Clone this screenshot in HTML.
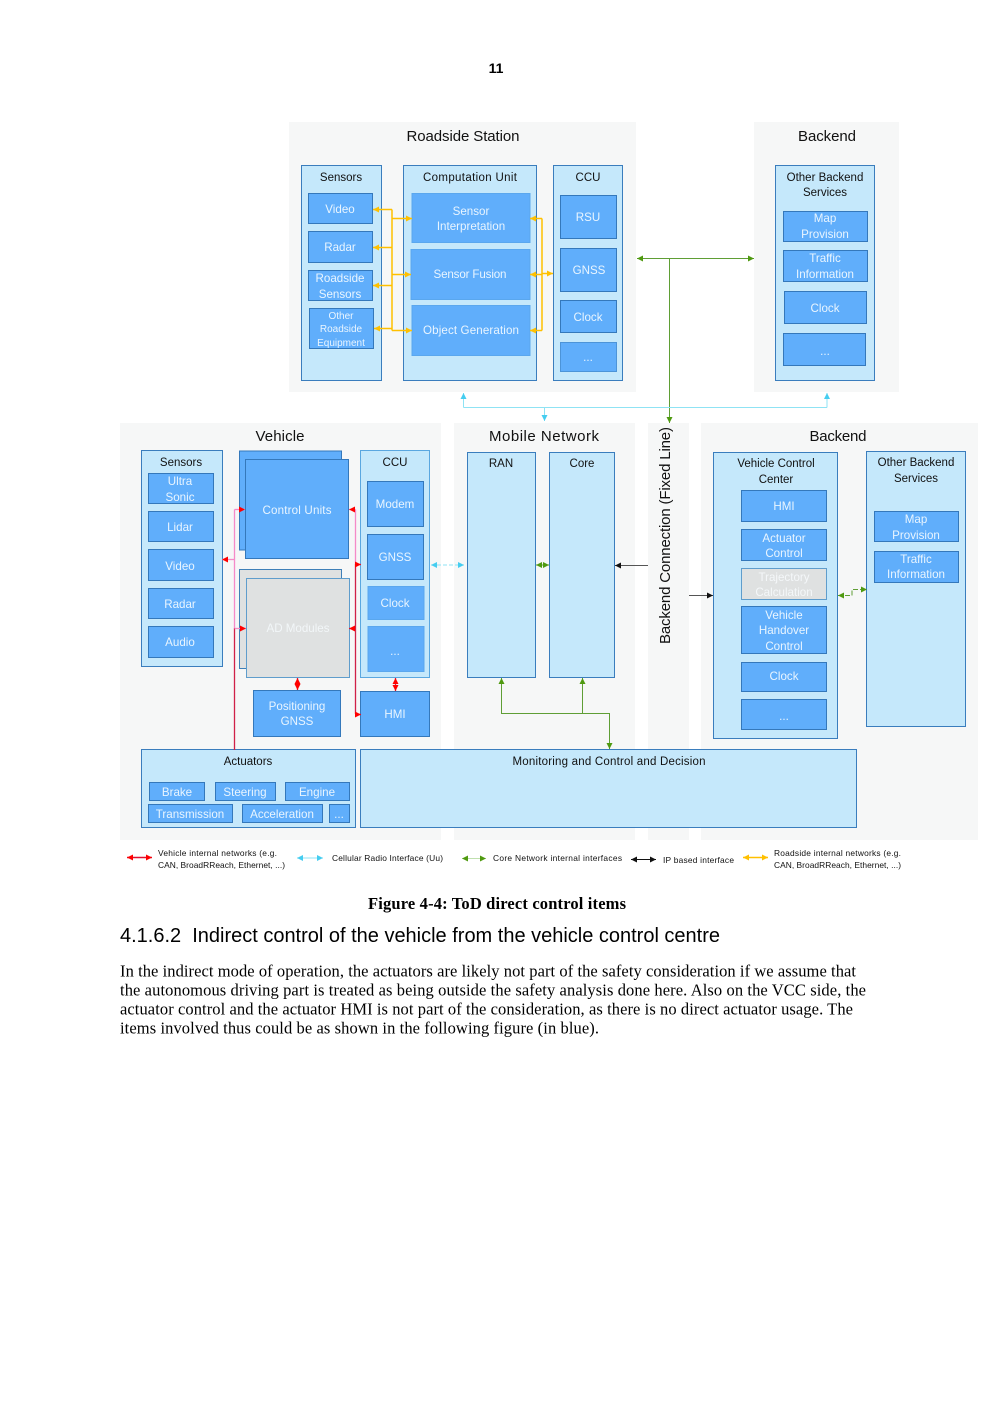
<!DOCTYPE html>
<html><head><meta charset="utf-8"><style>
html,body{margin:0;padding:0;background:#fff}
svg{display:block}
text{font-family:"Liberation Sans",sans-serif}
.bg{fill:#f6f7f7}
.c{fill:#c5e8fb;stroke:#3a7dbd;stroke-width:1}
.b{fill:#60aefb;stroke:#3478bb;stroke-width:1}
.g{fill:#dfe1e1;stroke:#5f9dcc;stroke-width:1}
.t{font-size:11.6px;fill:#e9f5ff;text-anchor:middle}
.k{font-size:11.5px;fill:#111;text-anchor:middle}
.h{font-size:15px;fill:#111;text-anchor:middle}
.l{font-size:8.4px;fill:#111}
.body{font-family:"Liberation Serif",serif;font-size:16.5px;fill:#000}
.y{stroke:#ffc000;stroke-width:1.5;fill:none}
.p{stroke:#f58ac8;stroke-width:1.3;fill:none}
.r{stroke:#d02048;stroke-width:1.3;fill:none}
.n{stroke:#5f9e35;stroke-width:1;fill:none}
.a{stroke:#8fe3f4;stroke-width:1;fill:none}
.d{stroke:#555;stroke-width:1;fill:none}
</style></head><body>
<svg xmlns="http://www.w3.org/2000/svg" width="993" height="1403" viewBox="0 0 993 1403">
<defs>
<marker id="my" markerUnits="userSpaceOnUse" markerWidth="7" markerHeight="6" refX="6" refY="3" orient="auto-start-reverse"><path d="M0 0L6 3L0 6Z" fill="#ffc000"/></marker>
<marker id="mr" markerUnits="userSpaceOnUse" markerWidth="7" markerHeight="6" refX="6" refY="3" orient="auto-start-reverse"><path d="M0 0L6 3L0 6Z" fill="#f00"/></marker>
<marker id="mn" markerUnits="userSpaceOnUse" markerWidth="7" markerHeight="6" refX="6" refY="3" orient="auto-start-reverse"><path d="M0 0L6 3L0 6Z" fill="#4f9a10"/></marker>
<marker id="ma" markerUnits="userSpaceOnUse" markerWidth="7" markerHeight="6" refX="6" refY="3" orient="auto-start-reverse"><path d="M0 0L6 3L0 6Z" fill="#45cdf0"/></marker>
<marker id="mk" markerUnits="userSpaceOnUse" markerWidth="7" markerHeight="6" refX="6" refY="3" orient="auto-start-reverse"><path d="M0 0L6 3L0 6Z" fill="#111"/></marker>
</defs>
<text x="496" y="73" font-size="14" font-weight="bold" text-anchor="middle" fill="#000">11</text>

<!-- backgrounds -->
<rect class="bg" x="289" y="122" width="347" height="270"/>
<rect class="bg" x="754" y="122" width="145" height="270"/>
<rect class="bg" x="120" y="423" width="321" height="417"/>
<rect class="bg" x="454" y="423" width="181" height="417"/>
<rect class="bg" x="648" y="423" width="41" height="417"/>
<rect class="bg" x="701" y="423" width="277" height="417"/>

<text class="h" x="463" y="141" textLength="113">Roadside Station</text>
<text class="h" x="827" y="141" textLength="58">Backend</text>
<text class="h" x="280" y="441" textLength="49">Vehicle</text>
<text class="h" x="544" y="441" textLength="110">Mobile Network</text>
<text class="h" x="838" y="441" textLength="57">Backend</text>
<text class="h" transform="translate(670,535.5) rotate(-90)" textLength="217">Backend Connection (Fixed Line)</text>

<!-- Roadside -->
<rect class="c" x="301.500" y="165.500" width="80" height="215"/>
<rect class="c" x="403.500" y="165.500" width="133" height="215"/>
<rect class="c" x="553.500" y="165.500" width="69" height="215"/>
<text class="k" x="341" y="181">Sensors</text>
<text class="k" x="470" y="181" textLength="94">Computation Unit</text>
<text class="k" x="588" y="181">CCU</text>
<rect class="b" x="308.500" y="193.500" width="64" height="30"/><text class="t" x="340" y="213">Video</text>
<rect class="b" x="308.500" y="231.500" width="64" height="31"/><text class="t" x="340" y="251">Radar</text>
<rect class="b" x="308.500" y="270.500" width="64" height="30"/><text class="t" x="340" y="282">Roadside</text><text class="t" x="340" y="298">Sensors</text>
<rect class="b" x="309.500" y="308.500" width="64" height="40"/><text class="t" x="341" y="319" style="font-size:10px">Other</text><text class="t" x="341" y="332" style="font-size:10px">Roadside</text><text class="t" x="341" y="346" style="font-size:10px">Equipment</text>
<rect class="b" x="412" y="193.500" width="118" height="49" style="stroke:#5aa7ee"/><text class="t" x="471" y="215">Sensor</text><text class="t" x="471" y="230">Interpretation</text>
<rect class="b" x="411" y="249.500" width="119" height="50" style="stroke:#5aa7ee"/><text class="t" x="470" y="278" textLength="73">Sensor Fusion</text>
<rect class="b" x="412" y="305.500" width="118" height="50" style="stroke:#5aa7ee"/><text class="t" x="471" y="334" textLength="96">Object Generation</text>
<rect class="b" x="560.500" y="195.500" width="56" height="43"/><text class="t" x="588" y="221">RSU</text>
<rect class="b" x="560.500" y="248.500" width="56" height="43"/><text class="t" x="589" y="274">GNSS</text>
<rect class="b" x="560.500" y="300.500" width="56" height="32"/><text class="t" x="588" y="321">Clock</text>
<rect class="b" x="560.500" y="342.500" width="56" height="29" style="stroke:#4c94d8"/><text class="t" x="588" y="361">...</text>

<!-- yellow -->
<g class="y">
<path d="M392 209.500V330.500"/>
<path d="M392 209.500H373" marker-end="url(#my)"/>
<path d="M392 247.500H373" marker-end="url(#my)"/>
<path d="M392 285.500H373" marker-end="url(#my)"/>
<path d="M392 328.500H374" marker-end="url(#my)"/>
<path d="M392 218.500H412" marker-end="url(#my)"/>
<path d="M392 274.500H411" marker-end="url(#my)"/>
<path d="M392 330.500H412" marker-end="url(#my)"/>
<path d="M542 218.500V330.500"/>
<path d="M542 218.500H530" marker-end="url(#my)"/>
<path d="M542 274.500H530" marker-end="url(#my)"/>
<path d="M542 330.500H530" marker-end="url(#my)"/>
<path d="M542 273.500H553" marker-end="url(#my)"/>
</g>

<!-- Backend top -->
<rect class="c" x="775.500" y="165.500" width="99" height="215"/>
<text class="k" x="825" y="181">Other Backend</text><text class="k" x="825" y="196">Services</text>
<rect class="b" x="783.500" y="211.500" width="84" height="30"/><text class="t" x="825" y="222">Map</text><text class="t" x="825" y="238">Provision</text>
<rect class="b" x="783.500" y="250.500" width="84" height="31"/><text class="t" x="825" y="262">Traffic</text><text class="t" x="825" y="278">Information</text>
<rect class="b" x="784.500" y="291.500" width="82" height="32"/><text class="t" x="825" y="312">Clock</text>
<rect class="b" x="783.500" y="333.500" width="82" height="32"/><text class="t" x="825" y="355">...</text>

<!-- top connectors -->
<path class="n" d="M637 258.500H754" marker-start="url(#mn)" marker-end="url(#mn)"/>
<path class="n" d="M669.500 258V423" marker-end="url(#mn)"/>
<path class="a" d="M463.500 407.500H827"/>
<path class="a" d="M463.500 407.500V393" marker-end="url(#ma)"/>
<path class="a" d="M827 407.500V393" marker-end="url(#ma)"/>
<path class="a" d="M544.500 407.500V421" marker-end="url(#ma)"/>

<!-- Vehicle -->
<rect class="c" x="141.500" y="450.500" width="81" height="216"/>
<text class="k" x="181" y="466">Sensors</text>
<rect class="b" x="148.500" y="473.500" width="65" height="30"/><text class="t" x="180" y="485">Ultra</text><text class="t" x="180" y="501">Sonic</text>
<rect class="b" x="148.500" y="511.500" width="65" height="30"/><text class="t" x="180" y="531">Lidar</text>
<rect class="b" x="148.500" y="549.500" width="65" height="31"/><text class="t" x="180" y="570">Video</text>
<rect class="b" x="148.500" y="588.500" width="65" height="30"/><text class="t" x="180" y="608">Radar</text>
<rect class="b" x="148.500" y="626.500" width="65" height="31"/><text class="t" x="180" y="646">Audio</text>

<rect class="b" x="239.500" y="451" width="102" height="99"/>
<rect class="b" x="245.500" y="459.500" width="103" height="99"/><text class="t" x="297" y="514" textLength="69">Control Units</text>
<rect class="g" x="239.500" y="569.500" width="102" height="99" style="stroke:#3f80b8"/>
<rect class="g" x="246.500" y="578.500" width="103" height="99"/><text class="t" x="298" y="632" style="fill:#f2f6f8" textLength="63">AD Modules</text>

<rect class="c" x="360.500" y="450.500" width="69" height="227" style="stroke:#5aa7e0"/>
<text class="k" x="395" y="466">CCU</text>
<rect class="b" x="367.500" y="481.500" width="56" height="45"/><text class="t" x="395" y="508">Modem</text>
<rect class="b" x="367.500" y="534.500" width="56" height="45"/><text class="t" x="395" y="561">GNSS</text>
<rect class="b" x="368" y="586.500" width="56" height="33" style="stroke:#5aa7ee"/><text class="t" x="395" y="607">Clock</text>
<rect class="b" x="368" y="626.500" width="56" height="45" style="stroke:#5aa7ee"/><text class="t" x="395" y="655">...</text>
<rect class="b" x="253.500" y="690.500" width="87" height="46"/><text class="t" x="297" y="710">Positioning</text><text class="t" x="297" y="725">GNSS</text>
<rect class="b" x="360.500" y="691.500" width="69" height="45"/><text class="t" x="395" y="718">HMI</text>

<rect class="c" x="141.500" y="749.500" width="214" height="78"/>
<text class="k" x="248" y="765">Actuators</text>
<rect class="b" x="149.500" y="782.500" width="55" height="18"/><text class="t" x="177" y="796">Brake</text>
<rect class="b" x="215.500" y="782.500" width="60" height="18"/><text class="t" x="245" y="796">Steering</text>
<rect class="b" x="285.500" y="782.500" width="64" height="18"/><text class="t" x="317" y="796">Engine</text>
<rect class="b" x="148.500" y="804.500" width="84" height="18"/><text class="t" x="190" y="818">Transmission</text>
<rect class="b" x="242.500" y="804.500" width="80" height="18"/><text class="t" x="282" y="818">Acceleration</text>
<rect class="b" x="329.500" y="804.500" width="20" height="18"/><text class="t" x="339" y="818">...</text>
<rect class="c" x="360.500" y="749.500" width="496" height="78"/>
<text class="k" x="609" y="765" textLength="193">Monitoring and Control and Decision</text>

<!-- vehicle connectors -->
<path class="r" d="M234.500 750V628"/>
<path class="p" d="M234.500 628V509.500"/>
<path class="p" d="M234.500 509.500H245" marker-end="url(#mr)"/>
<path class="p" d="M234.500 559.500H222" marker-end="url(#mr)"/>
<path class="p" d="M234.500 628.500H246" marker-end="url(#mr)"/>
<path class="p" d="M355.500 509.500V564"/>
<path class="r" d="M355.500 564V714"/>
<path class="p" d="M355.500 509.500H349" marker-end="url(#mr)"/>
<path class="r" d="M355.500 564.500H361" marker-end="url(#mr)"/>
<path class="r" d="M355.500 628.500H349" marker-end="url(#mr)"/>
<path class="r" d="M355.500 714.500H361" marker-end="url(#mr)"/>
<path class="r" d="M297.500 678V690" marker-start="url(#mr)" marker-end="url(#mr)"/>
<path class="r" d="M395.500 678V691" marker-start="url(#mr)" marker-end="url(#mr)"/>
<path class="a" d="M431 565H464" stroke-dasharray="4 2" marker-start="url(#ma)" marker-end="url(#ma)"/>

<!-- Mobile -->
<rect class="c" x="467.500" y="452.500" width="68" height="225"/>
<rect class="c" x="549.500" y="452.500" width="65" height="225"/>
<text class="k" x="501" y="467">RAN</text>
<text class="k" x="582" y="467">Core</text>
<path class="n" d="M536 565H549" stroke-dasharray="3 2" marker-start="url(#mn)" marker-end="url(#mn)"/>
<path class="n" d="M501.500 678V713.500H609.500V749" marker-start="url(#mn)" marker-end="url(#mn)"/>
<path class="n" d="M582.500 678V713.500" marker-start="url(#mn)"/>
<path class="d" d="M648 565.500H615" marker-end="url(#mk)"/>
<path class="d" d="M689 595.500H713" marker-end="url(#mk)"/>

<!-- Backend bottom -->
<rect class="c" x="713.500" y="452.500" width="124" height="286"/>
<text class="k" x="776" y="467">Vehicle Control</text><text class="k" x="776" y="483">Center</text>
<rect class="b" x="741.500" y="490.500" width="85" height="31"/><text class="t" x="784" y="510">HMI</text>
<rect class="b" x="741.500" y="529.500" width="85" height="31"/><text class="t" x="784" y="542">Actuator</text><text class="t" x="784" y="557">Control</text>
<rect class="g" x="741.500" y="568.500" width="85" height="31"/><text class="t" x="784" y="581" style="fill:#f4f7f9">Trajectory</text><text class="t" x="784" y="596" style="fill:#f4f7f9">Calculation</text>
<rect class="b" x="741.500" y="606.500" width="85" height="47"/><text class="t" x="784" y="619">Vehicle</text><text class="t" x="784" y="634">Handover</text><text class="t" x="784" y="650">Control</text>
<rect class="b" x="741.500" y="662.500" width="85" height="29"/><text class="t" x="784" y="680">Clock</text>
<rect class="b" x="741.500" y="699.500" width="85" height="30"/><text class="t" x="784" y="720">...</text>
<rect class="c" x="866.500" y="451.500" width="99" height="275"/>
<text class="k" x="916" y="466">Other Backend</text><text class="k" x="916" y="482">Services</text>
<rect class="b" x="874.500" y="511.500" width="84" height="30"/><text class="t" x="916" y="523">Map</text><text class="t" x="916" y="539">Provision</text>
<rect class="b" x="874.500" y="551.500" width="84" height="31"/><text class="t" x="916" y="563">Traffic</text><text class="t" x="916" y="578">Information</text>
<path class="n" d="M838 595.500H852V589.500H867" stroke-dasharray="5 2" marker-start="url(#mn)" marker-end="url(#mn)"/>

<!-- legend -->
<path d="M127 857.500H152" stroke="#e01030" stroke-width="1.500" marker-start="url(#mr)" marker-end="url(#mr)"/>
<text class="l" x="158" y="856" textLength="119">Vehicle internal networks (e.g.</text>
<text class="l" x="158" y="868" textLength="127">CAN, BroadRReach, Ethernet, ...)</text>
<path d="M297 858H323" stroke="#8fe3f4" stroke-width="1" marker-start="url(#ma)" marker-end="url(#ma)"/>
<text class="l" x="332" y="861" textLength="111">Cellular Radio Interface (Uu)</text>
<path d="M462 858.500H486" stroke="#bfe0ae" stroke-width="1" marker-start="url(#mn)" marker-end="url(#mn)"/>
<text class="l" x="493" y="861" textLength="129">Core Network internal interfaces</text>
<path d="M631 859.500H656" stroke="#111" stroke-width="1" marker-start="url(#mk)" marker-end="url(#mk)"/>
<text class="l" x="663" y="863" textLength="71">IP based interface</text>
<path d="M743 857.500H768" stroke="#ffc000" stroke-width="1.500" marker-start="url(#my)" marker-end="url(#my)"/>
<text class="l" x="774" y="856" textLength="127">Roadside internal networks (e.g.</text>
<text class="l" x="774" y="868" textLength="127">CAN, BroadRReach, Ethernet, ...)</text>

<!-- document text -->
<text x="368" y="909" style="font-family:'Liberation Serif',serif;font-size:16.500px;font-weight:bold" textLength="258">Figure 4-4: ToD direct control items</text>
<text x="120" y="942" font-size="20" fill="#000" textLength="600" xml:space="preserve">4.1.6.2  Indirect control of the vehicle from the vehicle control centre</text>
<text class="body" x="120" y="976.500" textLength="736">In the indirect mode of operation, the actuators are likely not part of the safety consideration if we assume that</text>
<text class="body" x="120" y="995.500" textLength="746">the autonomous driving part is treated as being outside the safety analysis done here. Also on the VCC side, the</text>
<text class="body" x="120" y="1014.500" textLength="733">actuator control and the actuator HMI is not part of the consideration, as there is no direct actuator usage. The</text>
<text class="body" x="120" y="1033.500" textLength="479">items involved thus could be as shown in the following figure (in blue).</text>
</svg>
</body></html>
